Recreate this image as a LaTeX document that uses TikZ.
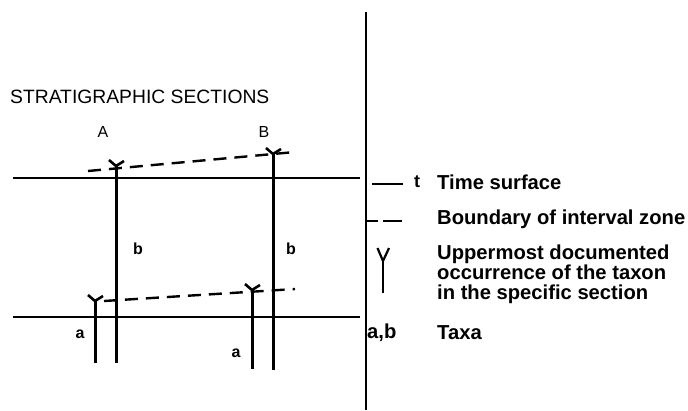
\documentclass[tikz,border=0pt]{standalone}
\usepackage{fontspec}
\setmainfont{Liberation Sans}
\begin{document}
\begin{tikzpicture}[x=1pt,y=-1pt,
  sect/.style={line width=3pt},
  tline/.style={line width=1.5pt},
  zone/.style={line width=2.4pt, dash pattern=on 13pt off 8pt},
  lab/.style={inner sep=0pt, font=\fontsize{16}{16}\selectfont\bfseries},
  legtext/.style={inner sep=0pt, anchor=west, align=left, font=\fontsize{20.2}{20}\selectfont\bfseries},
]
\useasboundingbox (0,0) rectangle (688,410);
% divider
\coordinate (d1) at (366,12);
\coordinate (d2) at (366,410);
\draw[line width=1.5pt] (d1) -- (d2);
% title
\node[inner sep=0pt, anchor=west, font=\fontsize{19.3}{20}\selectfont] (title) at (10,97) {STRATIGRAPHIC SECTIONS};
\node[inner sep=0pt, font=\fontsize{16}{16}\selectfont] (labA) at (103,131.5) {A};
\node[inner sep=0pt, font=\fontsize{16}{16}\selectfont] (labB) at (264,131.5) {B};
% time surfaces
\coordinate (t1l) at (13,178); \coordinate (t1r) at (360,178);
\coordinate (t2l) at (13,317); \coordinate (t2r) at (360,317);
\draw[tline] (t1l) -- (t1r);
\draw[tline] (t2l) -- (t2r);
% sections
\coordinate (Atop) at (116,166); \coordinate (Abot) at (116,363);
\coordinate (aAtop) at (95,301); \coordinate (aAbot) at (95,363);
\coordinate (Btop) at (273,154); \coordinate (Bbot) at (273,370);
\coordinate (aBtop) at (252,290); \coordinate (aBbot) at (252,369);
\foreach \p in {Atop,aAtop,Btop,aBtop}{
  \draw[line width=2.6pt] ([shift={(-7,-6)}]\p) -- (\p) -- ([shift={(8,-5)}]\p);
}
\draw[sect] (Atop) -- (Abot);
\draw[sect] (aAtop) -- (aAbot);
\draw[sect] (Btop) -- (Bbot);
\draw[sect] (aBtop) -- (aBbot);
% zone boundaries
\coordinate (z1l) at (88,171); \coordinate (z1r) at (295,152);
\coordinate (z2l) at (104,301); \coordinate (z2r) at (295,289);
\draw[zone] (z1l) -- (z1r);
\draw[zone] (z2l) -- (z2r);
% taxa labels
\node[lab] (b1) at (138,249) {b};
\node[lab] (b2) at (291,249) {b};
\node[lab] (a1) at (80,334) {a};
\node[lab] (a2) at (236,353) {a};
% legend
\coordinate (lt1) at (372,184); \coordinate (lt2) at (403,184);
\draw[line width=1.4pt] (lt1) -- (lt2);
\node[lab, font=\fontsize{18}{18}\selectfont\bfseries] (lt) at (417,182) {t};
\node[legtext] (ltxt) at (437,182) {Time surface};
\coordinate (ld1) at (367,221); \coordinate (ld2) at (378,221);
\coordinate (ld3) at (383,221); \coordinate (ld4) at (402,221);
\draw[line width=2.4pt] (ld1) -- (ld2);
\draw[line width=2.4pt] (ld3) -- (ld4);
\node[legtext] (ldtxt) at (437,219) {Boundary of interval zone};
\coordinate (ly) at (383,261); \coordinate (lyb) at (383,293);
\coordinate (lyl) at (377.5,248); \coordinate (lyr) at (389,248);
\draw[line width=2.2pt] (lyl) -- (ly) -- (lyr);
\draw[line width=2.2pt] (ly) -- (lyb);
\node[legtext, anchor=north west] (lytxt) at (437,245) {Uppermost documented\\occurrence of the taxon\\in the specific section};
\node[legtext] (lab) at (367,333) {a,b};
\node[legtext] (ltaxa) at (437,333) {Taxa};
\end{tikzpicture}
\end{document}
